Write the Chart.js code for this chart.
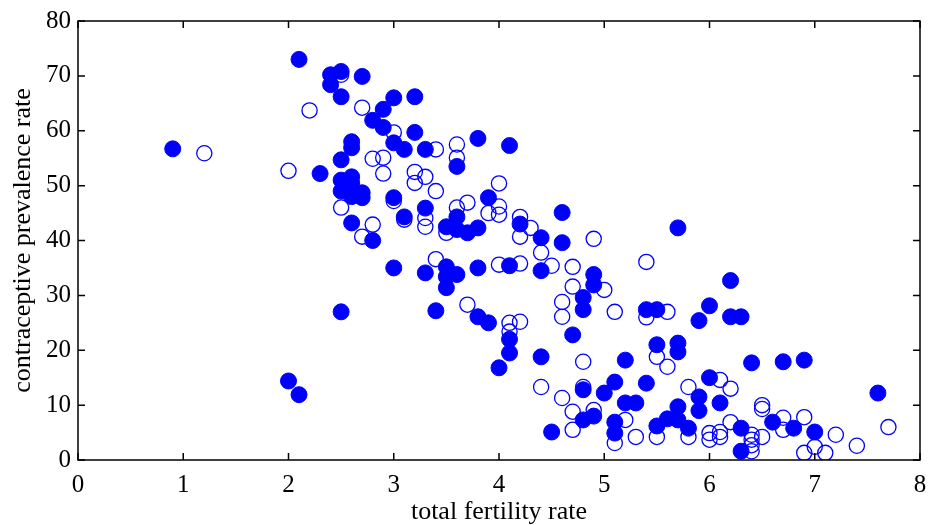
<!DOCTYPE html>
<html>
<head>
<meta charset="utf-8">
<script src="https://cdn.jsdelivr.net/npm/chart.js@4"></script>
<style>
  html, body { margin: 0; padding: 0; background: #fff; }
  canvas { display: block; }
</style>
</head>
<body>
<canvas id="scatter-chart" width="929" height="525"></canvas>
<script>
// fertility rate (x) and contraceptive prevalence (y), filled markers
var filledFertility = [0.9, 2.0, 2.1, 2.1, 2.3, 2.4, 2.4, 2.5, 2.5, 2.7,
    2.5, 2.6, 2.6, 2.6, 2.5, 2.5, 2.6, 2.7, 2.7, 2.6,
    2.6, 2.8, 2.5, 2.8, 2.9, 2.9, 3.0, 3.2, 3.2, 3.0,
    3.1, 3.3, 3.6, 3.8, 4.1, 3.0, 3.1, 3.3, 3.5, 3.6,
    3.7, 3.8, 3.6, 3.9, 3.0, 3.3, 3.5, 3.5, 3.6, 3.5,
    3.8, 4.1, 4.4, 3.4, 3.8, 3.9, 4.1, 4.1, 4.0, 4.2,
    4.4, 4.6, 4.6, 4.9, 4.9, 4.8, 4.8, 4.7, 4.4, 4.5,
    4.8, 4.8, 4.9, 5.0, 5.1, 5.2, 5.4, 5.4, 5.5, 5.5,
    5.7, 5.7, 5.7, 5.2, 5.3, 5.1, 5.1, 5.5, 5.6, 5.7,
    5.7, 5.8, 5.9, 5.9, 6.0, 6.1, 5.9, 6.0, 6.2, 6.2,
    6.3, 6.4, 6.7, 6.9, 6.3, 6.3, 6.6, 6.8, 7.0, 7.6];
var filledPrevalence = [56.7, 14.4, 11.9, 73.0, 52.2, 70.2, 68.4, 70.8, 66.2, 69.9,
    54.7, 58.0, 56.9, 51.6, 51.0, 49.0, 50.5, 48.7, 47.8, 48.0,
    43.2, 40.0, 27.0, 61.9, 63.9, 60.6, 66.0, 66.2, 59.7, 57.8,
    56.6, 56.6, 53.5, 58.6, 57.3, 47.8, 44.3, 45.9, 42.5, 44.3,
    41.4, 42.3, 42.0, 47.8, 35.0, 34.1, 35.2, 33.4, 33.8, 31.4,
    35.0, 35.4, 34.5, 27.2, 26.1, 25.0, 22.0, 19.5, 16.8, 43.0,
    40.5, 45.1, 39.6, 33.8, 31.9, 29.6, 27.4, 22.8, 18.8, 5.1,
    12.8, 7.3, 8.0, 12.2, 14.2, 18.2, 14.0, 27.4, 27.4, 21.0,
    21.3, 19.7, 42.3, 10.4, 10.4, 6.9, 4.9, 6.2, 7.5, 9.7,
    7.3, 5.8, 11.5, 9.0, 15.0, 10.4, 25.4, 28.1, 32.7, 26.1,
    26.1, 17.7, 17.9, 18.2, 5.8, 1.6, 6.9, 5.8, 5.1, 12.2];

// open markers
var openFertility = [1.2, 2.0, 2.2, 2.5, 2.7, 2.5, 2.8, 2.7, 2.8, 2.9,
    2.9, 3.0, 3.4, 3.6, 3.6, 3.2, 3.2, 3.3, 3.4, 3.0,
    3.1, 3.3, 3.3, 3.5, 3.7, 3.6, 3.9, 4.0, 4.0, 4.0,
    4.2, 4.3, 4.2, 4.9, 4.4, 4.0, 4.2, 4.5, 4.7, 4.7,
    5.0, 3.4, 3.7, 4.1, 4.2, 4.1, 4.6, 4.6, 5.1, 5.4,
    5.6, 5.4, 4.8, 4.4, 4.6, 4.8, 4.7, 4.7, 4.9, 5.1,
    5.2, 5.3, 5.5, 5.5, 5.6, 5.8, 5.8, 6.1, 6.2, 6.0,
    6.0, 6.1, 6.1, 6.2, 6.4, 6.4, 6.4, 6.4, 6.5, 6.5,
    6.5, 6.7, 6.7, 6.9, 6.9, 7.0, 7.1, 7.2, 7.4, 7.7];
var openPrevalence = [55.9, 52.7, 63.7, 70.2, 64.2, 46.0, 42.9, 40.7, 54.9, 55.1,
    52.2, 59.7, 56.6, 57.5, 55.1, 52.5, 50.5, 51.6, 49.0, 47.2,
    43.8, 44.1, 42.5, 41.4, 46.9, 46.0, 45.0, 50.4, 46.2, 44.7,
    44.3, 42.3, 40.7, 40.3, 37.8, 35.6, 35.8, 35.4, 35.2, 31.6,
    31.0, 36.6, 28.3, 25.0, 25.2, 23.4, 28.8, 26.1, 27.0, 26.0,
    27.0, 36.1, 17.9, 13.3, 11.3, 13.3, 8.8, 5.5, 9.1, 3.1,
    7.3, 4.2, 4.2, 18.8, 17.0, 13.3, 4.2, 14.6, 13.0, 4.9,
    3.7, 5.1, 4.2, 6.9, 4.6, 3.7, 2.7, 1.6, 10.0, 9.3,
    4.2, 7.7, 5.5, 7.8, 1.3, 2.4, 1.3, 4.6, 2.6, 6.0];

var xTicks = [0, 1, 2, 3, 4, 5, 6, 7, 8];
var yTicks = [0, 10, 20, 30, 40, 50, 60, 70, 80];

function toPoints(xs, ys) {
    var pts = [];
    for (var i = 0; i < xs.length; i++) {
        pts.push({x: xs[i], y: ys[i]});
    }
    return pts;
}

var serif = "'Liberation Serif', 'Times New Roman', serif";

// frame box with inward ticks on all four sides
var frameTicks = {
    id: 'frameTicks',
    afterDraw: function(chart) {
        var c = chart.ctx;
        var a = chart.chartArea;
        var xs = chart.scales.x, ys = chart.scales.y;
        var len = 7;
        c.save();
        c.strokeStyle = '#000';
        c.lineWidth = 1.5;
        c.strokeRect(a.left, a.top, a.right - a.left, a.bottom - a.top);
        c.beginPath();
        xTicks.forEach(function(v) {
            var px = xs.getPixelForValue(v);
            c.moveTo(px, a.bottom); c.lineTo(px, a.bottom - len);
            c.moveTo(px, a.top); c.lineTo(px, a.top + len);
        });
        yTicks.forEach(function(v) {
            var py = ys.getPixelForValue(v);
            c.moveTo(a.left, py); c.lineTo(a.left + len, py);
            c.moveTo(a.right, py); c.lineTo(a.right - len, py);
        });
        c.stroke();
        c.restore();
    }
};

var ctx = document.getElementById('scatter-chart').getContext('2d');
var chart = new Chart(ctx, {
    type: 'scatter',
    data: {
        datasets: [{
            label: 'open',
            data: toPoints(openFertility, openPrevalence),
            pointRadius: 7.6,
            pointBorderWidth: 1.3,
            borderColor: '#0000ff',
            backgroundColor: 'rgba(0,0,0,0)',
            pointHoverRadius: 7.6
        }, {
            label: 'filled',
            data: toPoints(filledFertility, filledPrevalence),
            pointRadius: 8,
            pointBorderWidth: 1,
            borderColor: '#0000ff',
            backgroundColor: '#0000ff',
            pointHoverRadius: 8
        }]
    },
    options: {
        responsive: false,
        animation: false,
        layout: {
            padding: {top: 21, right: 9, left: 0, bottom: 0}
        },
        plugins: {
            legend: {display: false},
            tooltip: {enabled: false}
        },
        scales: {
            x: {
                type: 'linear',
                min: 0,
                max: 8,
                afterBuildTicks: function(scale) {
                    scale.ticks = xTicks.map(function(v) { return {value: v}; });
                },
                afterFit: function(scale) {
                    scale.height = 65;
                    scale.paddingLeft = 0;
                    scale.paddingRight = 0;
                },
                grid: {display: false, drawTicks: false},
                border: {display: false},
                ticks: {
                    color: '#000',
                    padding: 10,
                    maxRotation: 0,
                    font: {family: serif, size: 25}
                },
                title: {
                    display: true,
                    text: 'total fertility rate',
                    color: '#000',
                    padding: 0,
                    font: {family: serif, size: 26, lineHeight: 1}
                }
            },
            y: {
                type: 'linear',
                min: 0,
                max: 80,
                afterBuildTicks: function(scale) {
                    scale.ticks = yTicks.map(function(v) { return {value: v}; });
                },
                afterFit: function(scale) {
                    scale.width = 78;
                    scale.paddingTop = 0;
                    scale.paddingBottom = 0;
                },
                grid: {display: false, drawTicks: false},
                border: {display: false},
                ticks: {
                    color: '#000',
                    padding: 7,
                    font: {family: serif, size: 25}
                },
                title: {
                    display: true,
                    text: 'contraceptive prevalence rate',
                    color: '#000',
                    padding: {top: 10, bottom: 0},
                    font: {family: serif, size: 26, lineHeight: 1}
                }
            }
        }
    },
    plugins: [frameTicks]
});
</script>
</body>
</html>
